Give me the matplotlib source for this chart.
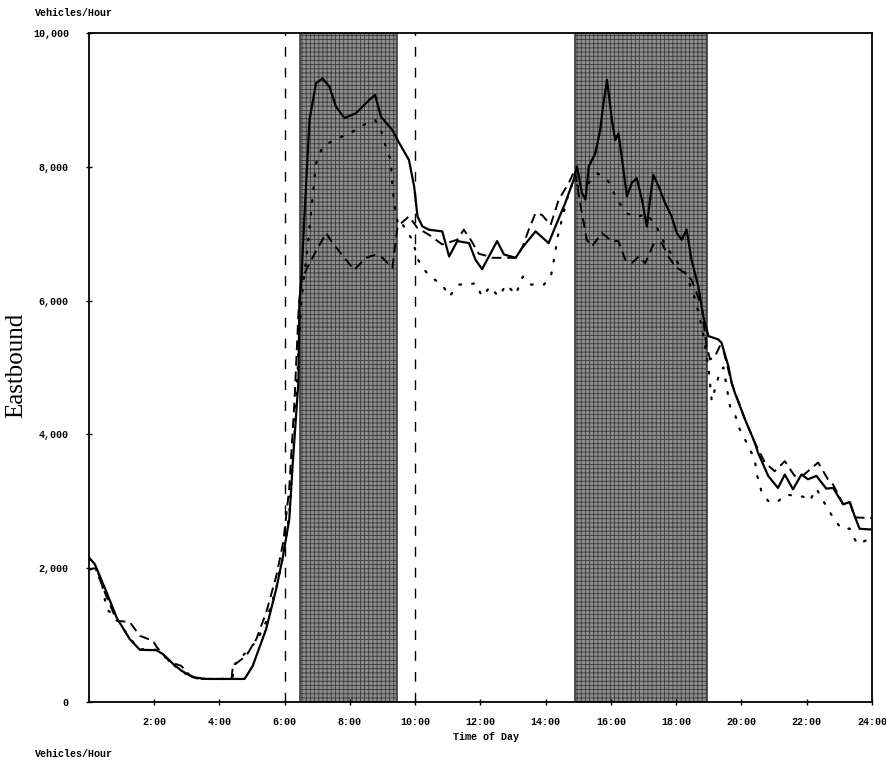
import matplotlib
matplotlib.use("Agg")
import matplotlib.pyplot as plt
from matplotlib.ticker import FuncFormatter

# Eastbound hourly volume profiles (time of day in hours, vehicles/hour)
solid_time = [0.0, 0.18, 0.54, 0.85, 1.25, 1.56, 2.07, 2.27, 2.58, 2.83, 3.19, 3.60,
              4.77, 5.02, 5.43, 5.74, 5.94, 6.14, 6.24, 6.42, 6.45, 6.51, 6.60, 6.76,
              6.96, 7.16, 7.37, 7.57, 7.83, 8.18, 8.59, 8.77, 8.95, 9.30, 9.46, 9.81,
              9.97, 10.07, 10.22, 10.42, 10.83, 11.04, 11.29, 11.65, 11.85, 12.05,
              12.26, 12.51, 12.72, 13.08, 13.28, 13.69, 14.09, 14.30, 14.60, 14.86,
              14.96, 15.11, 15.22, 15.32, 15.52, 15.67, 15.77, 15.88, 16.03, 16.13,
              16.23, 16.33, 16.49, 16.64, 16.79, 16.95, 17.10, 17.20, 17.30, 17.46,
              17.66, 17.86, 18.02, 18.17, 18.32, 18.47, 18.68, 18.83, 18.99, 19.29,
              19.39, 19.60, 19.70, 19.80, 20.11, 20.41, 20.51, 20.82, 21.12, 21.33,
              21.58, 21.84, 22.04, 22.30, 22.60, 22.81, 23.12, 23.32, 23.47, 23.62,
              23.93, 24.0]
solid_vol = [2160, 2060, 1640, 1260, 940, 780, 775, 715, 570, 470, 370, 345,
             345, 540, 1090, 1690, 2160, 2730, 3520, 4780, 6000, 6300, 7210, 8700,
             9250, 9320, 9200, 8900, 8730, 8800, 9000, 9075, 8750, 8550, 8400, 8100,
             7700, 7260, 7110, 7060, 7035, 6660, 6890, 6860, 6610, 6470,
             6660, 6890, 6690, 6640, 6790, 7035, 6860, 7110, 7460, 7810,
             8005, 7610, 7510, 8005, 8200, 8550, 8950, 9300, 8700, 8400,
             8500, 8150, 7560, 7760, 7830, 7510, 7110, 7510, 7880, 7710,
             7460, 7260, 7010, 6910, 7060, 6610, 6210, 5770, 5470, 5420,
             5370, 5020, 4770, 4620, 4224, 3876, 3726, 3380, 3200, 3400,
             3180, 3400, 3330, 3380, 3190, 3200, 2955, 2990, 2780, 2590,
             2580, 2580]

dashed_time = [0.0, 0.20, 0.50, 0.85, 1.25, 1.56, 1.96, 2.08, 2.48, 2.83, 3.09, 3.36,
               4.37, 4.41, 4.82, 5.13, 5.44, 5.75, 5.96, 6.14, 6.30, 6.42, 6.51, 6.70,
               6.96, 7.27, 7.47, 7.67, 7.88, 8.13, 8.49, 8.74, 9.00, 9.30, 9.46, 9.81,
               10.07, 10.42, 10.83, 11.29, 11.49, 11.70, 11.95, 12.26, 12.35, 13.08,
               13.28, 13.48, 13.69, 13.89, 14.15, 14.40, 14.71, 14.89, 15.04, 15.26,
               15.42, 15.72, 16.03, 16.23, 16.44, 16.64, 16.85, 17.05, 17.30, 17.56,
               17.76, 17.97, 18.27, 18.47, 18.78, 18.93, 19.04, 19.19, 19.34, 19.44,
               19.70, 20.11, 20.41, 20.72, 21.02, 21.33, 21.63, 21.92, 22.35, 22.65,
               22.81, 23.12, 23.32, 23.47, 23.93, 24.0]
dashed_vol = [1985, 2000, 1620, 1215, 1195, 990, 915, 820, 600, 540, 400, 345,
              345, 540, 690, 940, 1350, 1900, 2400, 3200, 4500, 5800, 6300, 6500,
              6740, 7010, 6860, 6740, 6610, 6460, 6640, 6680, 6640, 6490, 7110, 7260,
              7085, 6985, 6840, 6910, 7060, 6910, 6700, 6660, 6640, 6640,
              6790, 7060, 7310, 7280, 7130, 7510, 7760, 7950, 7500, 6910,
              6810, 7010, 6890, 6890, 6610, 6560, 6660, 6560, 6840, 6860,
              6660, 6510, 6410, 6310, 5915, 5320, 5120, 5170, 5320, 5270,
              4770, 4224, 3876, 3580, 3450, 3600, 3380, 3400, 3580, 3330,
              3250, 2955, 2990, 2760, 2750, 2750]

dotted_time = [0.0, 0.24, 0.39, 0.54, 0.85, 1.25, 1.56, 2.07, 2.27, 2.58, 2.83, 3.19,
               3.60, 4.40, 4.45, 4.60, 4.90, 5.13, 5.43, 5.74, 5.96, 6.14, 6.30, 6.42,
               6.51, 6.70, 6.96, 7.16, 7.50, 8.00, 8.50, 8.77, 8.95, 9.10, 9.25, 9.30,
               9.40, 9.50, 9.61, 9.91, 10.10, 10.30, 10.45, 10.83, 11.04, 11.35, 11.60,
               11.85, 12.05, 12.30, 12.55, 12.80, 13.08, 13.30, 13.55, 13.95, 14.17,
               14.27, 14.37, 14.52, 14.70, 14.86, 15.00, 15.30, 15.60, 15.90, 16.20,
               16.50, 16.80, 17.10, 17.40, 17.70, 18.00, 18.30, 18.60, 18.83, 18.99,
               19.09, 19.20, 19.35, 19.45, 19.55, 19.65, 19.80, 19.95, 20.11, 20.26,
               20.41, 20.46, 20.61, 20.82, 21.07, 21.38, 21.63, 21.89, 22.09, 22.30,
               22.45, 22.60, 22.75, 22.91, 23.06, 23.32, 23.42, 23.57, 23.78, 23.93,
               24.0]
dotted_vol = [1980, 1985, 1790, 1390, 1250, 950, 790, 780, 700, 560, 460, 360,
              345, 345, 560, 620, 800, 900, 1200, 1700, 2200, 2800, 4000, 5200,
              6000, 6800, 8050, 8300, 8400, 8500, 8650, 8700, 8550, 8300, 8100, 7700,
              7300, 7100, 7140, 6910, 6600, 6450, 6360, 6240, 6060, 6240, 6240,
              6260, 6060, 6210, 6060, 6240, 6090, 6360, 6240, 6240, 6390,
              6660, 6960, 7260, 7600, 7800, 7700, 7750, 7900, 7800, 7500,
              7300, 7250, 7300, 7100, 6800, 6600, 6400, 6000, 5500, 5000,
              4500, 4700, 4950, 5000, 4700, 4420, 4300, 4075, 3925, 3776,
              3627, 3428, 3154, 3005, 2980, 3104, 3080, 3070, 3005, 3189,
              3055, 2930, 2806, 2691, 2592, 2592, 2473, 2358, 2408, 2433,
              2433]

# Peak periods (shaded) and reference times (dashed verticals)
peak_periods = [(6.47, 9.45), (14.90, 18.93)]
reference_times = [6.0, 10.0]

x_ticks = [2, 4, 6, 8, 10, 12, 14, 16, 18, 20, 22, 24]
x_labels = ["2:00", "4:00", "6:00", "8:00", "10:00", "12:00", "14:00",
            "16:00", "18:00", "20:00", "22:00", "24:00"]
y_ticks = [0, 2000, 4000, 6000, 8000, 10000]

mono = "Liberation Mono"
plt.rcParams["hatch.linewidth"] = 0.6
plt.rcParams["hatch.color"] = "#3c3c3c"

fig = plt.figure(figsize=(8.87, 7.61), dpi=100)
ax = fig.add_axes([0.1003, 0.0775, 0.8827, 0.8791])

for start, end in peak_periods:
    ax.axvspan(start, end, facecolor="#8e8e8e", edgecolor="#3c3c3c",
               hatch="++++", linewidth=1.2, zorder=1)

for t in reference_times:
    ax.axvline(t, color="black", linewidth=1.0, linestyle=(0, (7, 8)), zorder=2)

ax.plot(solid_time, solid_vol, color="black", linewidth=1.6, zorder=4)
ax.plot(dashed_time, dashed_vol, color="black", linewidth=1.4,
        linestyle=(0, (5, 3)), zorder=3)
ax.plot(dotted_time, dotted_vol, color="black", linewidth=1.6,
        linestyle=(0, (0.8, 5)), dash_capstyle="round", zorder=3)

ax.set_xlim(0, 24)
ax.set_ylim(0, 10000)
ax.set_xticks(x_ticks)
ax.set_xticklabels(x_labels, fontfamily=mono, fontweight="bold", fontsize=7.2)
ax.set_yticks(y_ticks)
ax.yaxis.set_major_formatter(FuncFormatter(lambda v, p: f"{int(v):,}"))
for lab in ax.get_yticklabels():
    lab.set_fontfamily(mono)
    lab.set_fontweight("bold")
    lab.set_fontsize(7.2)
ax.tick_params(axis="both", direction="inout", length=5, width=1.0, pad=8)
ax.tick_params(axis="y", pad=12)

for side in ("left", "right", "top", "bottom"):
    ax.spines[side].set_linewidth(1.3)

fig.text(0.040, 0.983, "Vehicles/Hour", fontfamily=mono, fontweight="bold",
         fontsize=7.2, ha="left", va="center")
fig.text(0.548, 0.031, "Time of Day", fontfamily=mono, fontweight="bold",
         fontsize=7.2, ha="center", va="center")
fig.text(0.040, 0.002, "Vehicles/Hour", fontfamily=mono, fontweight="bold",
         fontsize=7.2, ha="left", va="bottom")
fig.text(0.018, 0.520, "Eastbound", fontfamily="Liberation Serif",
         fontsize=18, rotation=90, ha="center", va="center")

fig.savefig("out.png", dpi=100)
